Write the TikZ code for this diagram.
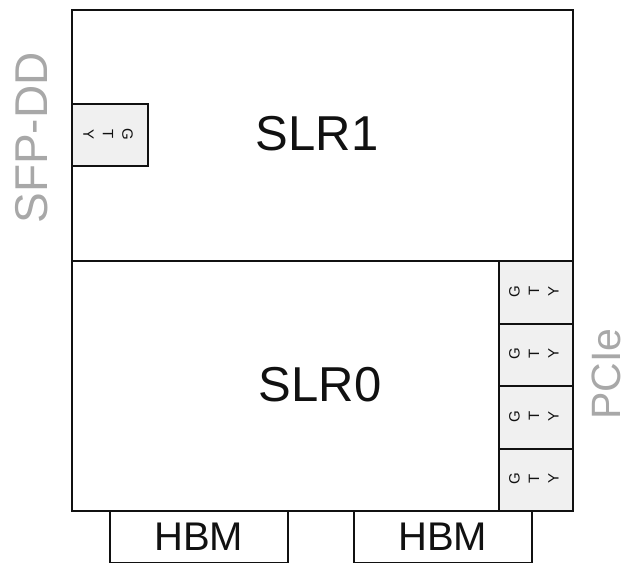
\documentclass[tikz,border=0pt]{standalone}
\usepackage{fontspec}
\setmainfont{Liberation Sans}
\definecolor{lbl}{HTML}{A8A8A8}
\definecolor{gtyfill}{HTML}{F0F0F0}
\definecolor{ink}{HTML}{111111}
\tikzset{
  slr/.style={draw=ink, line width=2pt, anchor=north west, inner sep=0pt, text=ink},
  slrtext/.style={text=ink, font=\fontsize{49}{60}\selectfont},
  gty/.style={draw=ink, line width=2pt, fill=gtyfill, anchor=north west, inner sep=0pt},
  gtytext/.style={text=ink, align=center, font=\fontsize{15}{19.5}\selectfont},
  hbm/.style={draw=ink, line width=1.5pt, anchor=north west, inner sep=0pt, text=ink,
    minimum width=178pt, minimum height=52pt, font=\fontsize{40}{48}\selectfont},
  side/.style={text=lbl, rotate=90, inner sep=0pt}
}
\begin{document}
\begin{tikzpicture}[x=1pt,y=-1pt]
\useasboundingbox (0,0) rectangle (625,563);
% HBM boxes
\node[hbm] (hbm0) at (109,510) {HBM};
\node[hbm] (hbm1) at (353,510) {HBM};
% SLRs
\node[slr, minimum width=501pt, minimum height=251pt] (slr1) at (71,9) {};
\node[slr, minimum width=501pt, minimum height=250pt] (slr0) at (71,260) {};
\node[slrtext] (t1) at (317,134) {SLR1};
\node[slrtext] (t0) at (320,385) {SLR0};
% left GTY
\node[gty, minimum width=76pt, minimum height=62pt] (gl) at (71,103) {};
\node[gtytext, rotate=-90] (glt) at (108,134) {G\\T\\Y};
% right GTYs
\foreach \i/\y in {0/260,1/322.5,2/385,3/447.5}{
  \node[gty, minimum width=74pt, minimum height=62.5pt] (gr\i) at (498,\y) {};
  \node[gtytext, rotate=90] (grt\i) at (534,\y+31.25) {G\\T\\Y};
}
% side labels
\node[side, font=\fontsize{46}{55}\selectfont] (sfp) at (32,138) {SFP-DD};
\node[side, font=\fontsize{41}{50}\selectfont] (pcie) at (606,374) {PCIe};
\end{tikzpicture}
\end{document}
